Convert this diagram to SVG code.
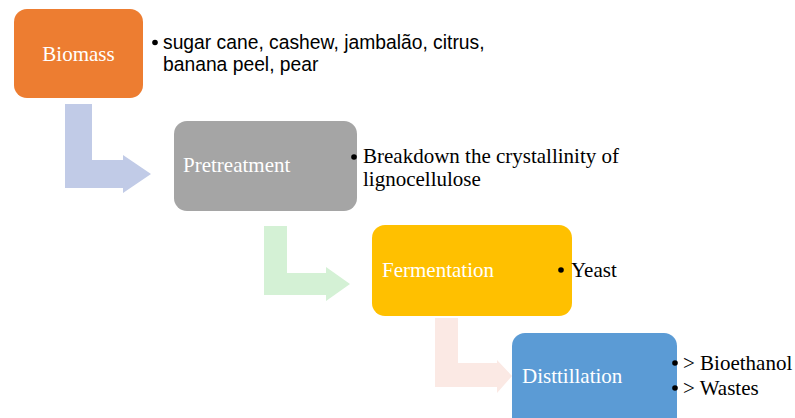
<svg xmlns="http://www.w3.org/2000/svg" width="795" height="418" viewBox="0 0 795 418">
<style>
.lbl{font-family:"Liberation Serif","Times New Roman",serif;font-size:21px;fill:#fff}
.tx{font-family:"Liberation Serif","Times New Roman",serif;font-size:21px;fill:#000}
.sx{font-family:"Liberation Sans",Arial,sans-serif;font-size:19.3px;fill:#000}
.bul{fill:#000}
</style>
<rect width="795" height="418" fill="#fff"/>
<g id="connectors">
<path d="M65 104H92V160H123V155L151 174L123 193V188H65Z" fill="#C1CBE7"/>
<path d="M264 226H287V273H326V267L350 284L326 301V295H264Z" fill="#D4F1D5"/>
<path d="M435 318H458V363H497V360L512 376L497 393V387H435Z" fill="#FBE9E4"/>
</g>
<g id="biomass">
<rect x="14" y="9" width="129" height="89" rx="13" fill="#ED7D31"/>
<text class="lbl" x="78.5" y="61" text-anchor="middle">Biomass</text>
<circle class="bul" cx="155" cy="42.5" r="2.8"/>
<text class="sx" x="163" y="49">sugar cane, cashew, jambalão, citrus,</text>
<text class="sx" x="163" y="71">banana peel, pear</text>
</g>
<g id="pretreatment">
<rect x="174" y="121" width="183" height="90" rx="13" fill="#A5A5A5"/>
<text class="lbl" x="183" y="172">Pretreatment</text>
<circle class="bul" cx="354" cy="157" r="2.8"/>
<text class="tx" x="363" y="163">Breakdown the crystallinity of</text>
<text class="tx" x="363" y="186">lignocellulose</text>
</g>
<g id="fermentation">
<rect x="372" y="225" width="200" height="91" rx="13" fill="#FFC000"/>
<text class="lbl" x="382" y="277">Fermentation</text>
<circle class="bul" cx="561" cy="270" r="2.8"/>
<text class="tx" x="571" y="277">Yeast</text>
</g>
<g id="distillation">
<rect x="512" y="333" width="165" height="100" rx="13" fill="#5B9BD5"/>
<text class="lbl" x="522" y="383">Disttillation</text>
<circle class="bul" cx="675" cy="363" r="2.8"/>
<text class="tx" x="683" y="370">&gt; Bioethanol</text>
<circle class="bul" cx="675" cy="388" r="2.8"/>
<text class="tx" x="683" y="395">&gt; Wastes</text>
</g>
</svg>
